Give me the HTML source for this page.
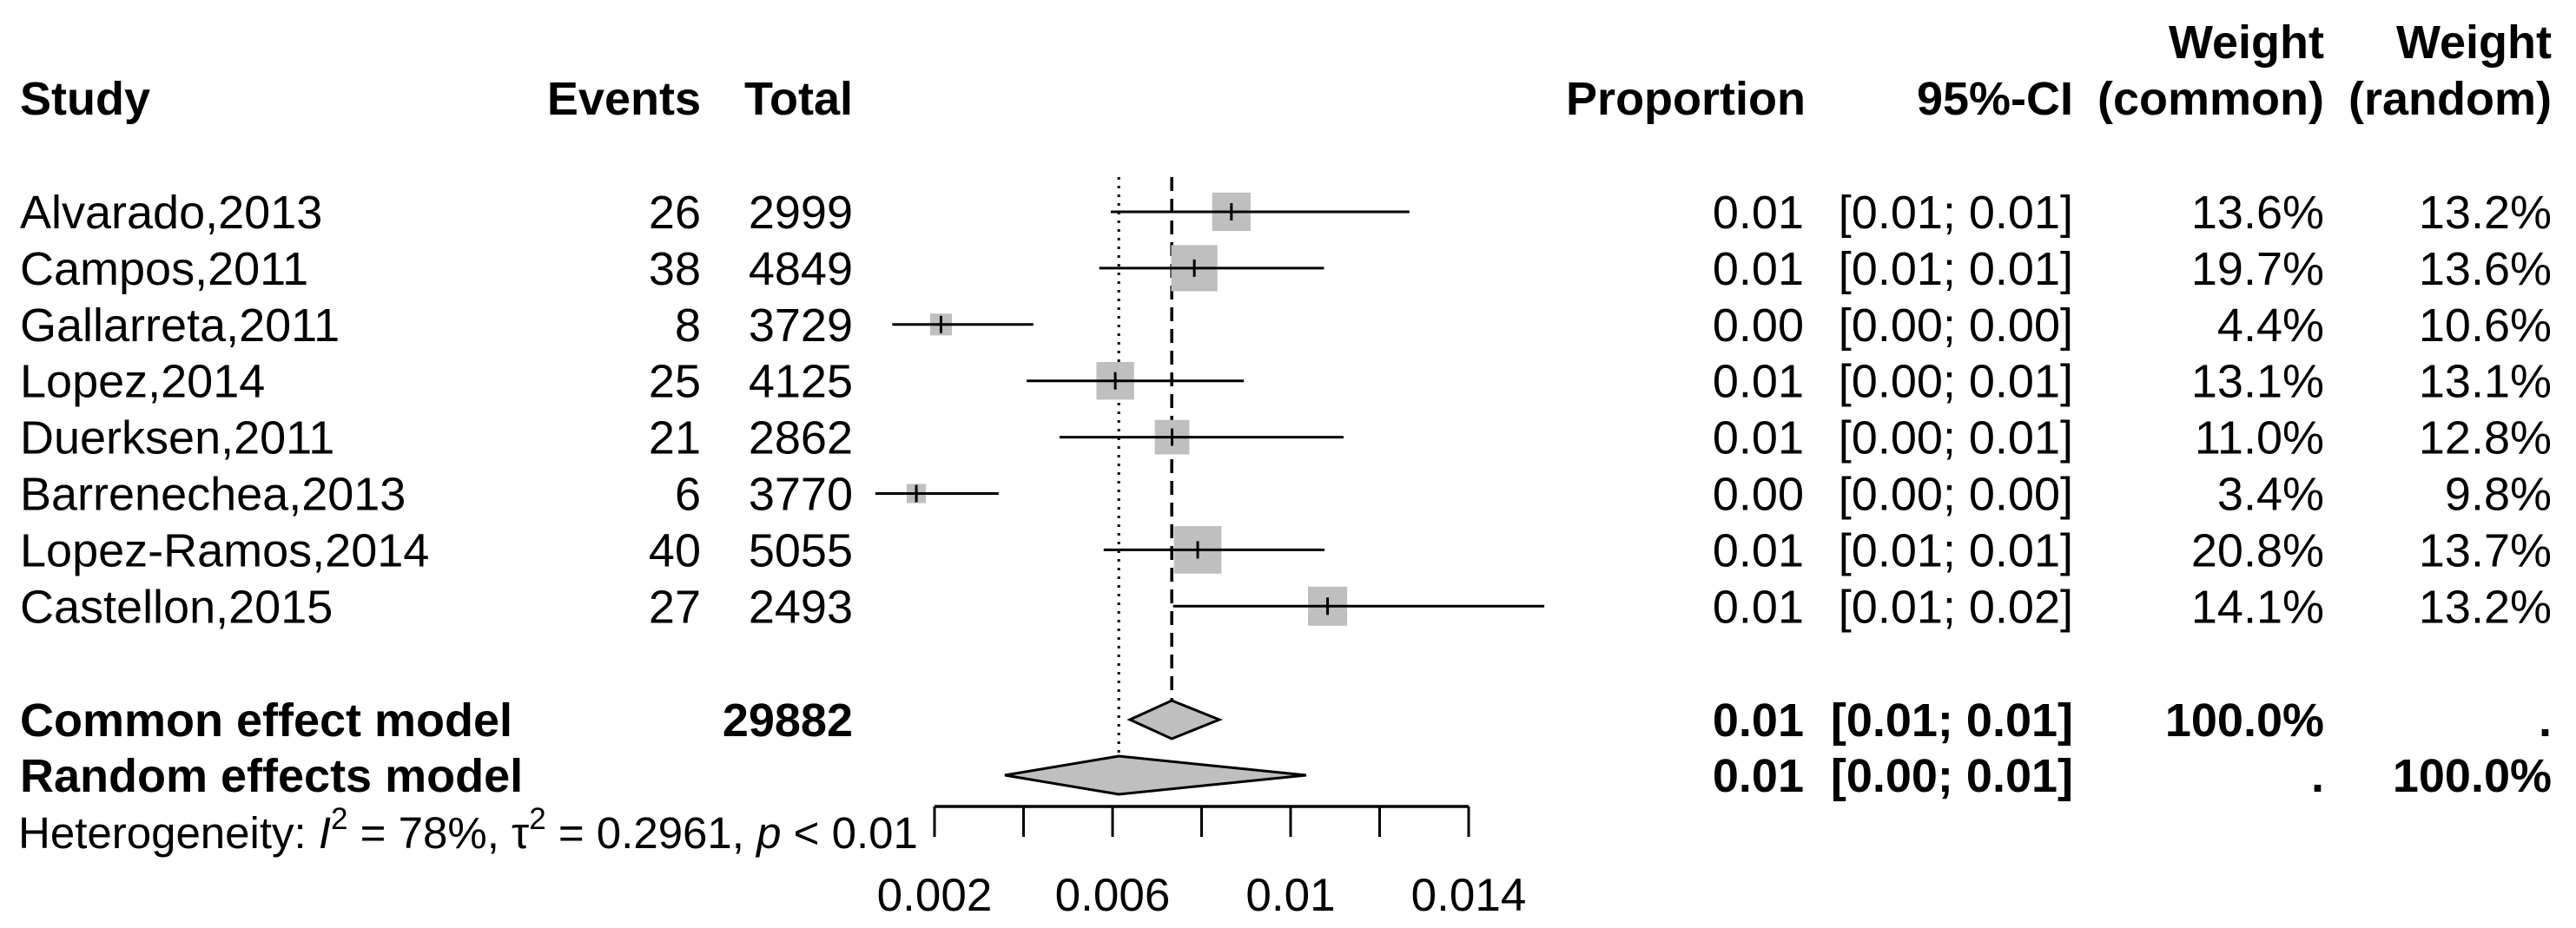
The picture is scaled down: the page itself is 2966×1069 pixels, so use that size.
<!DOCTYPE html>
<html><head><meta charset="utf-8"><style>
html,body{margin:0;padding:0;background:#fff;}
svg{display:block;font-family:"Liberation Sans",Arial,sans-serif;}
</style></head><body>
<svg id="plot" width="2966" height="1069" viewBox="0 0 2966 1069" xmlns="http://www.w3.org/2000/svg">
<g font-size="54" font-weight="bold">
<text x="23" y="132">Study</text>
<text x="807" y="132" text-anchor="end">Events</text>
<text x="982" y="132" text-anchor="end">Total</text>
<text x="2079" y="132" text-anchor="end">Proportion</text>
<text x="2387" y="132" text-anchor="end">95%-CI</text>
<text x="2676" y="67" text-anchor="end">Weight</text>
<text x="2676" y="132" text-anchor="end">(common)</text>
<text x="2938" y="67" text-anchor="end">Weight</text>
<text x="2938" y="132" text-anchor="end">(random)</text>
</g>
<g id="rows"></g>
<g id="marks"></g>
<g id="axis"></g>
<text x="21" y="977" font-size="51">Heterogeneity: <tspan font-style="italic">I</tspan><tspan dy="-22" font-size="35">2</tspan><tspan dy="22"> = 78%, τ</tspan><tspan dy="-22" font-size="35">2</tspan><tspan dy="22"> = 0.2961, </tspan><tspan font-style="italic">p</tspan> &lt; 0.01</text>
</svg>
<script>
const studies = ["Alvarado,2013","Campos,2011","Gallarreta,2011","Lopez,2014","Duerksen,2011","Barrenechea,2013","Lopez-Ramos,2014","Castellon,2015"];
const events = [26,38,8,25,21,6,40,27];
const totals = [2999,4849,3729,4125,2862,3770,5055,2493];
const lower = [0.00596,0.0057,0.00105,0.00407,0.00481,0.00067,0.0058,0.00736];
const upper = [0.01267,0.01075,0.00422,0.00895,0.01119,0.00344,0.01076,0.0157];
const propText = ["0.01","0.01","0.00","0.01","0.01","0.00","0.01","0.01"];
const ciText = ["[0.01; 0.01]","[0.01; 0.01]","[0.00; 0.00]","[0.00; 0.01]","[0.00; 0.01]","[0.00; 0.00]","[0.01; 0.01]","[0.01; 0.02]"];
const wCommon = [13.6,19.7,4.4,13.1,11.0,3.4,20.8,14.1];
const wRandom = [13.2,13.6,10.6,13.1,12.8,9.8,13.7,13.2];
const commonEst = [0.00733,0.00639,0.0084];
const randomEst = [0.00614,0.00358,0.01035];
const tickValues = [0.002,0.004,0.006,0.008,0.01,0.012,0.014];
const tickLabels = ["0.002","","0.006","","0.01","","0.014"];

const NS="http://www.w3.org/2000/svg";
const xs = v => 1076 + (v-0.002)*(1691-1076)/0.012;
const rowY = i => 244 + i*64.9;
const commonY = 829, randomY = 893;
function mk(tag, attrs, parent){const e=document.createElementNS(NS,tag);for(const k in attrs)e.setAttribute(k,attrs[k]);parent.appendChild(e);return e;}
const rows=document.getElementById('rows'), marks=document.getElementById('marks'), axis=document.getElementById('axis');
function txt(s,x,y,anchor,bold){const t=mk('text',{x:x,y:y,'font-size':54,'text-anchor':anchor,'font-weight':bold?'bold':'normal'},rows);t.textContent=s;return t;}

let l=mk('line',{x1:xs(randomEst[0]),x2:xs(randomEst[0]),y1:204,y2:randomY-22,stroke:'#000','stroke-width':3,'stroke-dasharray':'3,7'},marks);


l=mk('line',{x1:xs(commonEst[0]),x2:xs(commonEst[0]),y1:204,y2:commonY-22,stroke:'#000','stroke-width':3.5,'stroke-dasharray':'16,9'},marks);



studies.forEach((s,i)=>{
  const y=rowY(i), b=y+19;
  let t=txt(s,23,b,'start');
  
  
  t=txt(String(events[i]),807,b,'end');
  
  
  t=txt(String(totals[i]),982,b,'end');
  
  
  t=txt(propText[i],2077,b,'end');
  
  
  t=txt(ciText[i],2387,b,'end');
  
  
  t=txt(wCommon[i].toFixed(1)+'%',2676,b,'end');
  
  
  t=txt(wRandom[i].toFixed(1)+'%',2938,b,'end');
  
  
  const p=events[i]/totals[i], sz=12*Math.sqrt(wCommon[i]);
  const sq=mk('rect',{x:xs(p)-sz/2,y:y-sz/2,width:sz,height:sz,fill:'#bfbfbf'},marks);
  
  
  const ci=mk('line',{x1:xs(lower[i]),x2:xs(upper[i]),y1:y,y2:y,stroke:'#000','stroke-width':3},marks);
  
  
  const tk=mk('line',{x1:xs(p),x2:xs(p),y1:y-10,y2:y+10,stroke:'#000','stroke-width':3},marks);
  
  
});

function diamond(est,y,name){
  const d=mk('polygon',{points:`${xs(est[1])},${y} ${xs(est[0])},${y-22} ${xs(est[2])},${y} ${xs(est[0])},${y+22}`,fill:'#bfbfbf',stroke:'#000','stroke-width':3},marks);
  
  
}
diamond(commonEst,commonY,'common-diamond');
diamond(randomEst,randomY,'random-diamond');

const cb=commonY+19, rb=randomY+19;
[["Common effect model",23,cb,'start','common-label'],["29882",982,cb,'end','common-total'],
 ["0.01",2077,cb,'end','common-proportion'],["[0.01; 0.01]",2387,cb,'end','common-ci'],
 ["100.0%",2676,cb,'end','common-weight-common'],[".",2938,cb,'end','common-weight-random'],
 ["Random effects model",23,rb,'start','random-label'],["0.01",2077,rb,'end','random-proportion'],
 ["[0.00; 0.01]",2387,rb,'end','random-ci'],[".",2676,rb,'end','random-weight-common'],
 ["100.0%",2938,rb,'end','random-weight-random']].forEach(r=>{
  const t=txt(r[0],r[1],r[2],r[3],true);
  
  
});

const al=mk('line',{x1:xs(tickValues[0]),x2:xs(tickValues[tickValues.length-1]),y1:929,y2:929,stroke:'#000','stroke-width':3.5},axis);


tickValues.forEach((v,i)=>{
  const tk=mk('line',{x1:xs(v),x2:xs(v),y1:929,y2:964,stroke:'#000','stroke-width':3},axis);
  
  
  if(tickLabels[i]){
    const t=mk('text',{x:xs(v),y:1049,'font-size':53,'text-anchor':'middle'},axis);
    t.textContent=tickLabels[i];
    
    
  }
});
</script>
</body></html>
